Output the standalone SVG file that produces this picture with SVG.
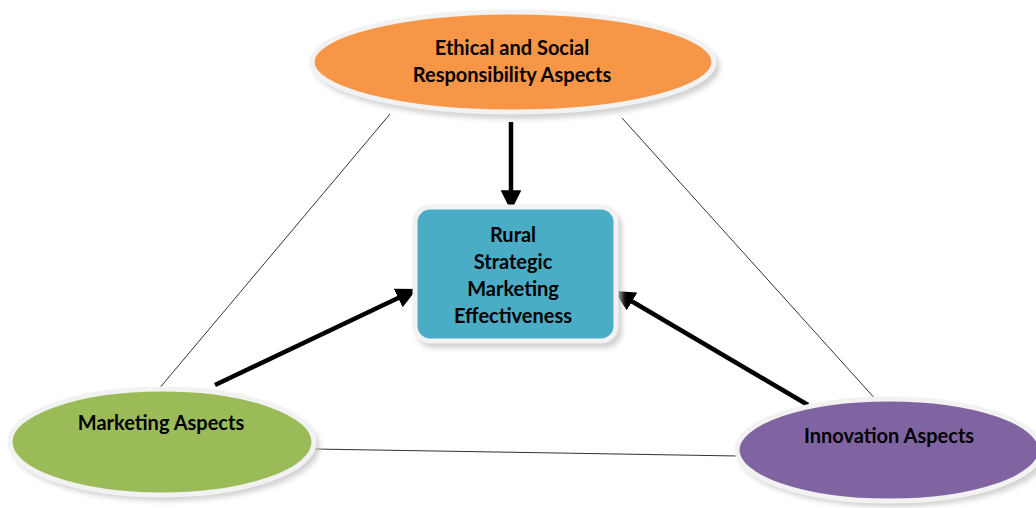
<svg xmlns="http://www.w3.org/2000/svg" width="1036" height="508" viewBox="0 0 1036 508">
<style>
.lbl{font-family:Lato,"Liberation Sans",sans-serif;font-weight:bold;font-size:20px;fill:#000;text-anchor:middle}
.thin{stroke:#333;stroke-width:1;fill:none}
.thick{stroke:#000;stroke-width:4.5;fill:none}
.ring{stroke:#f2f2f2;stroke-width:5}
.shadow{fill:#c8c8c8;opacity:0.8}
</style>
<defs>
<filter id="blur" x="-10%" y="-10%" width="120%" height="130%"><feGaussianBlur stdDeviation="2.5"/></filter>
<marker id="ah" viewBox="0 0 10 10" refX="9" refY="5" markerWidth="4.6" markerHeight="4.6" orient="auto" markerUnits="strokeWidth">
<path d="M0,0 L10,5 L0,10 z" fill="#000"/>
</marker>
</defs>
<rect width="1036" height="508" fill="#fff"/>
<g id="connectors">
<line class="thin" x1="390" y1="114" x2="158" y2="390"/>
<line class="thin" x1="622" y1="118" x2="878" y2="402"/>
<line class="thin" x1="314" y1="449" x2="738" y2="456"/>
<line class="thick" x1="511" y1="122" x2="511" y2="209" marker-end="url(#ah)"/>
<line class="thick" x1="215" y1="385" x2="415" y2="290" marker-end="url(#ah)"/>
<line class="thick" x1="808" y1="405" x2="616" y2="292" marker-end="url(#ah)"/>
</g>
<g id="ethical">
<ellipse class="shadow" cx="517" cy="67" rx="203" ry="52" filter="url(#blur)"/>
<ellipse cx="513" cy="62" rx="201" ry="50" fill="#F79646" class="ring"/>
<text class="lbl" x="512" y="55">Ethical and Social</text>
<text class="lbl" x="512" y="82">Responsibility Aspects</text>
</g>
<g id="center">
<rect class="shadow" x="417" y="210" width="205" height="138" rx="16" filter="url(#blur)"/>
<rect x="415" y="207" width="201" height="134" rx="15" fill="#4BACC6" class="ring"/>
<text class="lbl" x="513" y="242">Rural</text>
<text class="lbl" x="513" y="269">Strategic</text>
<text class="lbl" x="513" y="296">Marketing</text>
<text class="lbl" x="513" y="323">Effectiveness</text>
</g>
<g id="marketing">
<ellipse class="shadow" cx="166" cy="447" rx="154" ry="54" filter="url(#blur)"/>
<ellipse cx="162" cy="442" rx="152" ry="53" fill="#9BBB59" class="ring"/>
<text class="lbl" x="161" y="430">Marketing Aspects</text>
</g>
<g id="innovation">
<ellipse class="shadow" cx="893" cy="455" rx="154" ry="52" filter="url(#blur)"/>
<ellipse cx="889" cy="450" rx="152" ry="51" fill="#8064A2" class="ring"/>
<text class="lbl" x="889" y="443">Innovation Aspects</text>
</g>
</svg>
